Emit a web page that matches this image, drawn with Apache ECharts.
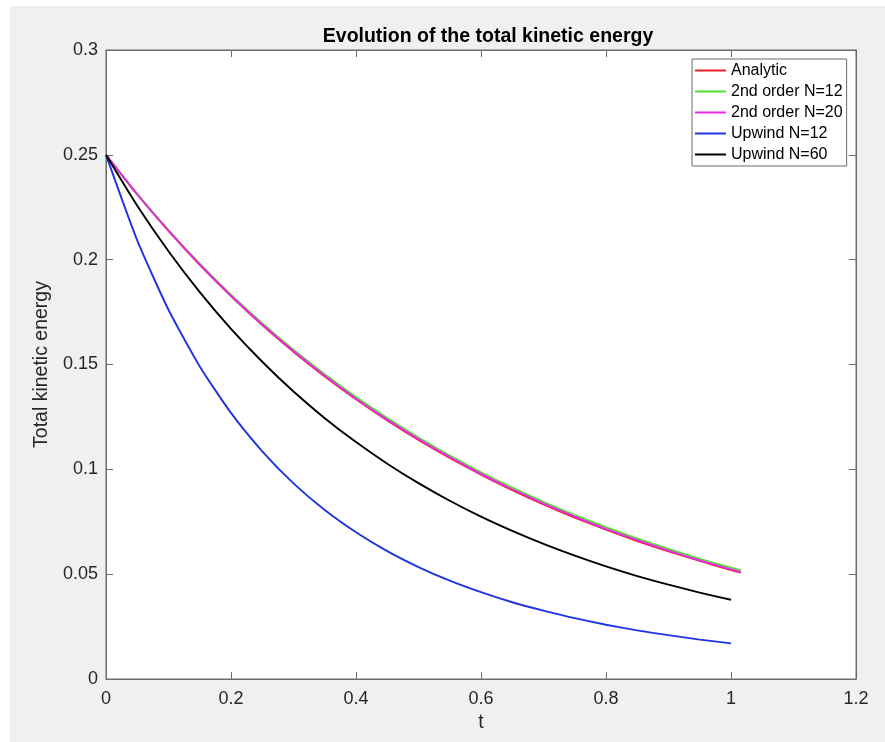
<!DOCTYPE html>
<html>
<head>
<meta charset="utf-8">
<script src="https://cdn.jsdelivr.net/npm/echarts@6/dist/echarts.min.js"></script>
<style>html,body{margin:0;padding:0;background:#fff}#c{width:885px;height:742px}</style>
</head>
<body>
<div id="c"></div>
<script>
// time samples
const tUpwind = [0,0.05,0.1,0.15,0.2,0.25,0.3,0.35,0.4,0.45,0.5,0.55,0.6,0.65,0.7,0.75,0.8,0.85,0.9,0.95,1.0];
const tSecond = [0,0.05,0.1,0.15,0.2,0.25,0.3,0.35,0.4,0.45,0.5,0.55,0.6,0.65,0.7,0.75,0.8,0.85,0.9,0.95,1.0,1.016];

const analytic = [0.25,0.2311,0.2137,0.1975,0.1826,0.1688,0.1561,0.1443,0.1334,0.1233,0.1140,0.1054,0.0975,0.0901,0.0833,0.0770,0.0712,0.0658,0.0609,0.0563,0.0520,0.0507];
const second12 = [0.25,0.2313,0.2141,0.1981,0.1833,0.1697,0.1570,0.1453,0.1345,0.1245,0.1152,0.1066,0.0986,0.0913,0.0845,0.0782,0.0724,0.0670,0.0620,0.0573,0.0531,0.0518];
const second20 = [0.25,0.2312,0.2138,0.1977,0.1828,0.1691,0.1564,0.1446,0.1337,0.1237,0.1144,0.1058,0.0978,0.0905,0.0837,0.0774,0.0716,0.0662,0.0612,0.0566,0.0523,0.0510];
const upwind12 = [0.25,0.2092,0.1761,0.1491,0.1269,0.1086,0.0933,0.0806,0.0700,0.0610,0.0534,0.0469,0.0414,0.0366,0.0326,0.0290,0.0259,0.0232,0.0209,0.0188,0.0170];
const upwind60 = [0.25,0.2257,0.2040,0.1845,0.1670,0.1513,0.1371,0.1244,0.1130,0.1027,0.0934,0.0850,0.0774,0.0706,0.0644,0.0588,0.0537,0.0491,0.0450,0.0412,0.0378];

const names = ['Analytic','2nd order N=12','2nd order N=20','Upwind N=12','Upwind N=60'];
const xTicks = {min:0, max:1.2, interval:0.2};
const yTicks = {min:0, max:0.3, interval:0.05};

function pairs(t, v){ return v.map((y,i)=>[t[i], y]); }

const chart = echarts.init(document.getElementById('c'), null, {renderer:'canvas'});
const font = 'Liberation Sans, Arial, Helvetica, sans-serif';
const axisCol = '#6a6a6a';
const labelCol = '#262626';

function mkSeries(name, data, color){
  return {name, type:'line', data, showSymbol:false, symbol:'none', smooth:0.2,
    lineStyle:{color, width:1.9}, itemStyle:{color}, animation:false, z:3};
}
const tickStyle = {show:true, inside:true, length:7, lineStyle:{color:axisCol}};
const lineStyleAx = {show:true, onZero:false, lineStyle:{color:axisCol}};

chart.setOption({
  backgroundColor:'#ffffff',
  animation:false,
  graphic:[{type:'rect', shape:{x:10,y:6,width:875,height:736}, style:{fill:'#f0f0f0'}, z:-10, silent:true}],
  title:{text:'Evolution of the total kinetic energy', left:483, top:22, textAlign:'center',
    textStyle:{fontFamily:font, fontSize:19.5, fontWeight:'bold', color:'#000'}},
  grid:{left:106, top:50, right:29, bottom:63, show:true, backgroundColor:'#ffffff', borderColor:axisCol, borderWidth:1},
  legend:{orient:'vertical', left:692, top:59, data:names,
    backgroundColor:'#ffffff', borderColor:axisCol, borderWidth:1, padding:[2,4,2,3],
    itemWidth:31, itemHeight:2, itemGap:2, icon:'rect',
    textStyle:{fontFamily:font, fontSize:16, color:'#000', lineHeight:19}},
  xAxis:[
    {type:'value', min:xTicks.min, max:xTicks.max, interval:xTicks.interval, position:'bottom',
     name:'t', nameLocation:'middle', nameGap:29, nameTextStyle:{fontFamily:font, fontSize:19.5, color:labelCol},
     axisLine:lineStyleAx, axisTick:tickStyle,
     axisLabel:{fontFamily:font, fontSize:18, color:labelCol, margin:11}, splitLine:{show:false}},
    {type:'value', min:xTicks.min, max:xTicks.max, interval:xTicks.interval, position:'top',
     axisLine:lineStyleAx, axisTick:tickStyle,
     axisLabel:{show:false}, splitLine:{show:false}}
  ],
  yAxis:[
    {type:'value', min:yTicks.min, max:yTicks.max, interval:yTicks.interval, position:'left',
     name:'Total kinetic energy', nameLocation:'middle', nameGap:47, nameRotate:90,
     nameTextStyle:{fontFamily:font, fontSize:19.5, color:labelCol},
     axisLine:lineStyleAx, axisTick:tickStyle,
     axisLabel:{fontFamily:font, fontSize:18, color:labelCol, margin:8}, splitLine:{show:false}},
    {type:'value', min:yTicks.min, max:yTicks.max, interval:yTicks.interval, position:'right',
     axisLine:lineStyleAx, axisTick:tickStyle,
     axisLabel:{show:false}, splitLine:{show:false}}
  ],
  series:[
    mkSeries(names[0], pairs(tSecond, analytic), '#ee1c25'),
    mkSeries(names[1], pairs(tSecond, second12), '#4de32c'),
    mkSeries(names[2], pairs(tSecond, second20), '#e62ce6'),
    mkSeries(names[3], pairs(tUpwind, upwind12), '#1f34e0'),
    mkSeries(names[4], pairs(tUpwind, upwind60), '#000000')
  ]
});
</script>
</body>
</html>
